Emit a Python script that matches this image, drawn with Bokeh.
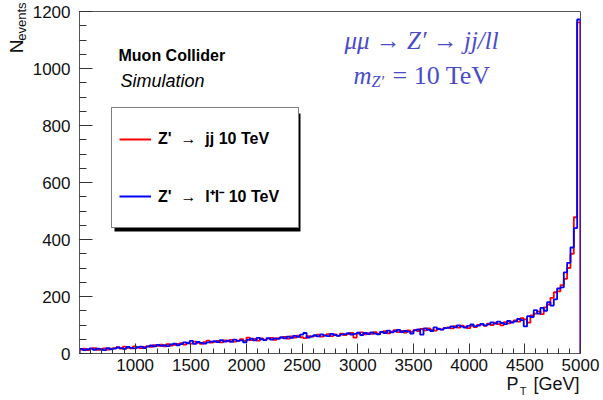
import numpy as np
from bokeh.plotting import figure
from bokeh.models import (Range1d, FixedTicker, Label, Legend, LegendItem,
                          BoxAnnotation, Title)
from bokeh.embed import file_html
from bokeh.resources import INLINE

# ---------------- data ----------------
bin_start = 500      # GeV
bin_width = 30       # GeV

red_counts = [
    14, 17, 12, 16, 19, 13, 15, 18, 14, 17,
    19, 22, 17, 24, 20, 18, 25, 21, 19, 23,
    26, 23, 29, 27, 31, 25, 33, 28, 30, 34,
    36, 31, 38, 35, 42, 37, 34, 40, 45, 38,
    41, 44, 39, 46, 43, 48, 42, 45, 50, 44,
    56, 47, 51, 45, 53, 49, 52, 55, 48, 54,
    55, 58, 52, 60, 56, 63, 57, 54, 61, 59,
    62, 66, 59, 64, 68, 61, 67, 63, 70, 65,
    68, 72, 56, 70, 74, 67, 71, 69, 75, 70,
    74, 78, 71, 77, 82, 75, 79, 73, 81, 76,
    83, 79, 86, 81, 88, 84, 80, 87, 85, 90,
    92, 88, 96, 91, 98, 94, 89, 97, 93, 100,
    101, 97, 105, 100, 108, 103, 99, 110, 106, 112,
    116, 112, 124, 120, 108, 134, 140, 148, 138, 162,
    172, 195, 215, 218, 240, 262, 300, 350, 478, 1162,
]

blue_counts = [
    16, 12, 15, 18, 13, 17, 14, 12, 19, 15,
    17, 21, 19, 16, 23, 20, 18, 22, 24, 19,
    24, 28, 25, 30, 27, 29, 26, 32, 35, 29,
    33, 39, 36, 44, 34, 41, 37, 35, 39, 42,
    43, 40, 47, 42, 45, 41, 49, 44, 46, 39,
    48, 52, 46, 55, 50, 47, 54, 49, 53, 51,
    57, 53, 59, 55, 62, 58, 66, 72, 56, 60,
    64, 60, 67, 63, 61, 69, 65, 62, 66, 68,
    71, 66, 69, 73, 65, 72, 68, 74, 70, 67,
    76, 72, 80, 74, 78, 83, 75, 79, 77, 70,
    81, 85, 66, 88, 83, 79, 92, 86, 84, 89,
    90, 95, 92, 99, 94, 91, 97, 102, 95, 98,
    104, 99, 102, 109, 105, 112, 107, 103, 114, 108,
    113, 121, 117, 95, 131, 128, 152, 140, 160, 150,
    180, 168, 190, 228, 232, 285, 318, 372, 440, 1172,
]

x_ticks = [1000, 1500, 2000, 2500, 3000, 3500, 4000, 4500, 5000]
x_minor = list(range(600, 5000, 100))
y_ticks = [0, 200, 400, 600, 800, 1000, 1200]
y_minor = list(range(0, 1201, 50))

NB = "\u00a0"   # non-collapsing space for SVG text
legend_labels = ["Z'" + NB + " \u2192 " + NB + "jj 10 TeV",
                 "Z'" + NB + " \u2192 " + NB + "l\u207al\u207b 10 TeV"]

# ---------------- layout ----------------
W, H = 603, 400
FL, FR, FT, FB = 79, 580, 11, 353   # frame edges in page pixels

p = figure(width=W, height=H, title=None,
           x_range=Range1d(500, 5000), y_range=Range1d(0, 1200),
           output_backend="svg", toolbar_location=None,
           min_border_left=FL, min_border_right=W - FR,
           min_border_top=FT, min_border_bottom=H - FB)

p.background_fill_color = "white"
p.border_fill_color = "white"
p.outline_line_color = "#555555"
p.outline_line_width = 1
p.xgrid.visible = False
p.ygrid.visible = False

p.xaxis.ticker = FixedTicker(ticks=x_ticks, minor_ticks=x_minor)
p.yaxis.ticker = FixedTicker(ticks=y_ticks, minor_ticks=y_minor)

for ax in (p.xaxis[0], p.yaxis[0]):
    ax.axis_line_color = "#555555"
    ax.major_tick_line_color = "#333333"
    ax.minor_tick_line_color = "#333333"
    ax.major_tick_out = 0
    ax.minor_tick_out = 0
    ax.major_label_text_font = "Liberation Sans"
    ax.major_label_text_font_size = "17px"
    ax.major_label_text_color = "#111111"

p.xaxis.major_tick_in = 10
p.xaxis.minor_tick_in = 5
p.yaxis.major_tick_in = 13
p.yaxis.minor_tick_in = 7
p.xaxis.major_label_standoff = 5
p.yaxis.major_label_standoff = 9

# ---------------- histograms ----------------
edges = bin_start + bin_width * np.arange(len(red_counts) + 1)
xs = np.repeat(edges, 2)
ys_red = np.concatenate([[0], np.repeat(red_counts, 2), [0]])
ys_blue = np.concatenate([[0], np.repeat(blue_counts, 2), [0]])

r_red = p.line(xs, ys_red, line_color="#ff0000", line_width=1.8)
r_blue = p.line(xs, ys_blue, line_color="#0000ff", line_width=1.8)

# ---------------- legend with shadow ----------------
LX0, LY0, LW, LH = 111, 110, 186, 118   # page px (left, top, width, height)
shadow = BoxAnnotation(left=LX0 - FL + 3, right=LX0 - FL + LW + 3,
                       top=FB - LY0 - 3, bottom=FB - LY0 - LH - 3,
                       left_units="screen", right_units="screen",
                       top_units="screen", bottom_units="screen",
                       fill_color="black", fill_alpha=1, line_color=None)
p.add_layout(shadow)

legend = Legend(items=[LegendItem(label=legend_labels[0], renderers=[r_red]),
                       LegendItem(label=legend_labels[1], renderers=[r_blue])],
                location=(LX0 - FL, FB - LY0 - LH),
                padding=7, spacing=9, margin=0,
                glyph_width=32, glyph_height=48,
                label_height=48, label_width=133, label_standoff=7,
                border_line_color="black", border_line_width=1.2,
                background_fill_color="white", background_fill_alpha=1,
                label_text_font="Liberation Sans", label_text_font_style="bold",
                label_text_font_size="16px", label_text_color="black")
p.add_layout(legend)


def lab(text, px, py, size, style="normal", font="Liberation Sans",
        color="black", align="left"):
    p.add_layout(Label(x=px - FL, y=FB - py, x_units="screen", y_units="screen",
                       text=text, text_font=font, text_font_size=size,
                       text_font_style=style, text_color=color,
                       text_align=align, text_baseline="alphabetic"))


# title texts
lab("Muon Collider", 118, 55, "16px", style="bold")
lab("Simulation", 120, 80, "18px", style="italic")

# physics annotation (blue, serif)
BLUE_TXT = "#4b4bc8"
lab("\u03bc\u03bc \u2192 Z\u2032 \u2192 jj/ll", 344, 40, "25px", style="italic",
    font="Liberation Serif", color=BLUE_TXT)
lab("m", 353, 75, "25px", style="italic", font="Liberation Serif", color=BLUE_TXT)
lab("Z\u2032", 371, 81, "16px", style="italic", font="Liberation Serif", color=BLUE_TXT)
lab("= 10 TeV", 392, 75, "26px", font="Liberation Serif", color=BLUE_TXT)


# ---------------- axis titles (side-panel titles, not clipped) ----------------
def side_title(text, side, size, align, offset, standoff, valign):
    try:
        t = Title(text=text, align=align, offset=offset, standoff=standoff,
                  vertical_align=valign, text_font="Liberation Sans",
                  text_font_size=size, text_font_style="normal",
                  text_color="#111111")
    except Exception:
        t = Title(text=text, align=align, offset=offset, standoff=0,
                  vertical_align=valign, text_font="Liberation Sans",
                  text_font_size=size, text_font_style="normal",
                  text_color="#111111")
    p.add_layout(t, side)


# y title: N_events (stacked outward from the axis)
side_title("events", "left", "13px", "right", -9, 1, "bottom")
side_title("N", "left", "19px", "right", 28, -30, "bottom")
# x title: P_T [GeV]
side_title("P" + NB + NB + NB + "[GeV]", "below", "18px", "right", 1, 0, "top")
side_title("T", "below", "11px", "right", 54, -22, "top")

open("out.html", "w").write(file_html(p, INLINE))
